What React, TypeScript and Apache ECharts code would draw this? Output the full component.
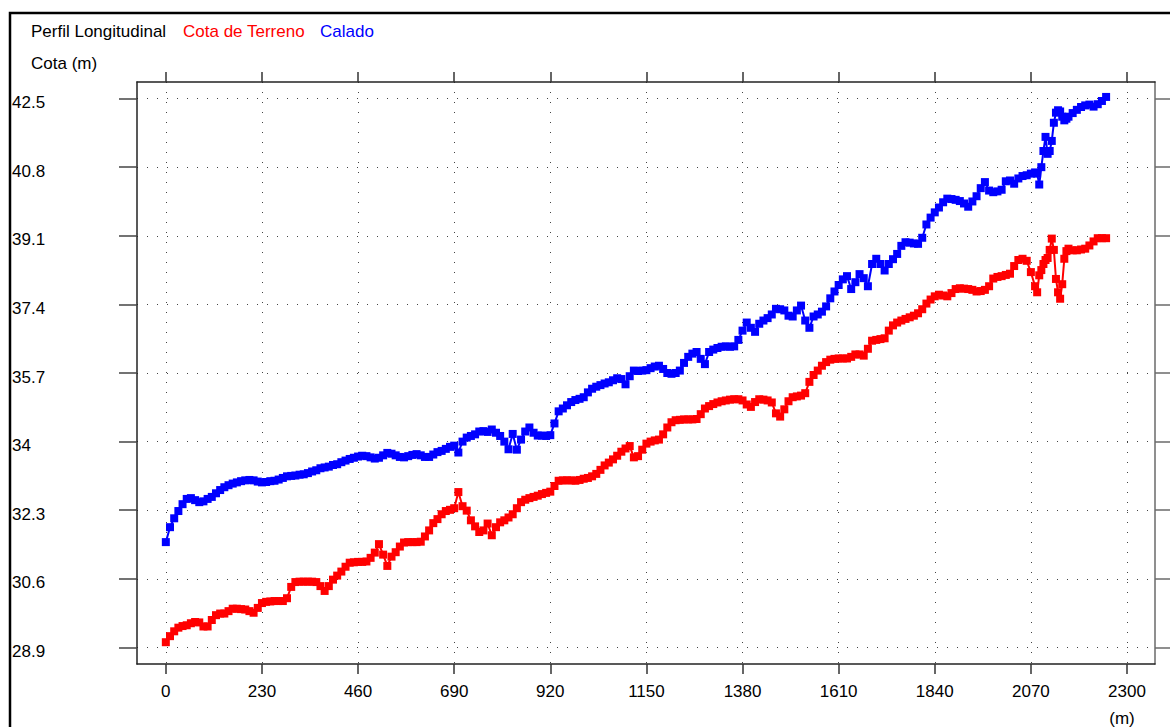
import React, { useEffect, useRef } from "react";
import * as echarts from "echarts";

const FONT = '"Liberation Sans", Arial, Helvetica, sans-serif';

// Axis ticks (distance in metres, elevation in metres)
const xTicks = [0, 230, 460, 690, 920, 1150, 1380, 1610, 1840, 2070, 2300];
const yTicks = [28.9, 30.6, 32.3, 34, 35.7, 37.4, 39.1, 40.8, 42.5];

const titleText = "Perfil Longitudinal";
const terrenoName = "Cota de Terreno";
const caladoName = "Calado";
const yAxisName = "Cota (m)";
const xAxisUnit = "(m)";

// Survey stations: every 10 m, denser (5 m) through the irregular stretch near 2100 m
function stationRange(from: number, to: number, step: number): number[] {
  const out: number[] = [];
  for (let s = from; s <= to; s += step) out.push(s);
  return out;
}
const stations = [
  ...stationRange(0, 2080, 10),
  ...stationRange(2085, 2160, 5),
  ...stationRange(2170, 2250, 10),
];

// Water level (blue)
const calado = [
  31.51, 31.88, 32.10, 32.28, 32.45, 32.58, 32.60, 32.55, 32.50, 32.52,
  32.58, 32.63, 32.72, 32.80, 32.87, 32.92, 32.96, 32.99, 33.02, 33.04,
  33.05, 33.04, 33.01, 32.99, 33.00, 33.02, 33.03, 33.06, 33.10, 33.14,
  33.15, 33.16, 33.18, 33.19, 33.22, 33.26, 33.29, 33.34, 33.36, 33.38,
  33.42, 33.44, 33.49, 33.53, 33.57, 33.60, 33.63, 33.65, 33.64, 33.61,
  33.58, 33.60, 33.66, 33.72, 33.70, 33.66, 33.62, 33.61, 33.64, 33.67,
  33.69, 33.66, 33.62, 33.62, 33.68, 33.74, 33.77, 33.82, 33.87, 33.90,
  33.73, 34.00, 34.10, 34.14, 34.18, 34.25, 34.26, 34.24, 34.30, 34.22,
  34.14, 34.00, 33.81, 34.19, 33.80, 34.05, 34.25, 34.35, 34.22, 34.15,
  34.15, 34.14, 34.16, 34.45, 34.75, 34.82, 34.90, 34.98, 35.03, 35.06,
  35.10, 35.22, 35.31, 35.36, 35.40, 35.44, 35.47, 35.52, 35.57, 35.55,
  35.42, 35.62, 35.76, 35.75, 35.76, 35.77, 35.82, 35.86, 35.88, 35.80,
  35.70, 35.68, 35.70, 35.76, 35.95, 36.10, 36.18, 36.22, 36.05, 35.92,
  36.22, 36.28, 36.32, 36.35, 36.36, 36.35, 36.36, 36.52, 36.75, 36.95,
  36.82, 36.72, 36.92, 37.00, 37.06, 37.15, 37.29, 37.28, 37.25, 37.12,
  37.10, 37.25, 37.37, 37.00, 36.82, 37.10, 37.15, 37.22, 37.35, 37.55,
  37.72, 37.88, 38.02, 38.10, 37.78, 37.95, 38.15, 38.05, 37.85, 38.40,
  38.53, 38.40, 38.24, 38.40, 38.52, 38.65, 38.85, 38.94, 38.93, 38.91,
  38.90, 39.05, 39.38, 39.55, 39.68, 39.80, 39.93, 40.02, 40.01, 39.99,
  39.96, 39.90, 39.82, 39.95, 40.08, 40.28, 40.43, 40.22, 40.18, 40.20,
  40.24, 40.45, 40.47, 40.39, 40.52, 40.58, 40.60, 40.64, 40.67,
  40.64, 40.37, 40.80, 41.20, 41.55, 41.13, 41.20, 41.45, 41.90, 42.15,
  42.21, 42.18, 42.05, 41.96, 42.00, 42.05,
  42.14, 42.22, 42.29, 42.33, 42.35, 42.30, 42.36, 42.44, 42.54,
];

// Ground elevation (red)
const cotaTerreno = [
  29.03, 29.18, 29.30, 29.39, 29.43, 29.45, 29.50, 29.53, 29.52, 29.42,
  29.42, 29.58, 29.70, 29.74, 29.74, 29.80, 29.86, 29.86, 29.85, 29.84,
  29.80, 29.76, 29.88, 30.00, 30.03, 30.04, 30.05, 30.05, 30.05, 30.12,
  30.40, 30.52, 30.53, 30.53, 30.53, 30.53, 30.52, 30.42, 30.30, 30.42,
  30.58, 30.68, 30.78, 30.90, 31.00, 31.01, 31.02, 31.02, 31.03, 31.12,
  31.25, 31.46, 31.20, 30.92, 31.15, 31.26, 31.40, 31.50, 31.51, 31.51,
  31.51, 31.52, 31.65, 31.80, 31.98, 32.08, 32.20, 32.28, 32.31, 32.35,
  32.75, 32.40, 32.29, 32.05, 31.90, 31.76, 31.80, 31.97, 31.68, 31.88,
  32.00, 32.05, 32.12, 32.20, 32.35, 32.50, 32.56, 32.60, 32.63, 32.66,
  32.70, 32.73, 32.76, 32.90, 33.03, 33.04, 33.04, 33.04, 33.03, 33.05,
  33.08, 33.10, 33.14, 33.20, 33.30, 33.41, 33.48, 33.56, 33.65, 33.75,
  33.83, 33.89, 33.61, 33.64, 33.80, 33.95, 34.00, 34.03, 34.05, 34.18,
  34.35, 34.48, 34.53, 34.54, 34.55, 34.55, 34.55, 34.56, 34.68, 34.82,
  34.88, 34.93, 34.97, 35.00, 35.02, 35.04, 35.05, 35.05, 35.02, 34.92,
  34.86, 34.98, 35.05, 35.04, 35.02, 34.97, 34.70, 34.62, 34.80, 35.00,
  35.10, 35.12, 35.14, 35.20, 35.48, 35.65, 35.76, 35.88, 35.97, 36.03,
  36.05, 36.06, 36.06, 36.06, 36.10, 36.16, 36.16, 36.13, 36.30, 36.50,
  36.52, 36.54, 36.56, 36.75, 36.88, 36.95, 37.00, 37.04, 37.08, 37.12,
  37.18, 37.28, 37.42, 37.52, 37.60, 37.64, 37.62, 37.60, 37.68, 37.78,
  37.80, 37.79, 37.78, 37.76, 37.72, 37.73, 37.76, 37.85, 38.04, 38.08,
  38.10, 38.13, 38.16, 38.35, 38.50, 38.53, 38.48, 38.20, 37.85,
  37.70, 38.12, 38.25, 38.40, 38.50, 38.55, 38.75, 39.03, 38.75, 38.03,
  37.70, 37.54, 37.90, 38.53, 38.72, 38.78,
  38.74, 38.74, 38.76, 38.78, 38.86, 38.96, 39.04, 39.04, 39.04,
];

// Plot-frame extents (axis ranges slightly wider than the tick span)
const X_MIN = -69;
const X_MAX = 2367;
const Y_MIN = 28.49;
const Y_MAX = 42.91;

const RED = "#ff0000";
const BLUE = "#0000ff";
const AXIS_DARK = "#222222";
const AXIS_GREY = "#6a6a6a";

export default function App() {
  const ref = useRef<HTMLDivElement>(null);

  useEffect(() => {
    if (!ref.current) return;
    const chart = echarts.init(ref.current, undefined, { renderer: "svg" });

    const dotted = { type: [1, 9] as number[], color: "#444", width: 1 };
    const labelStyle = { color: "#000", fontFamily: FONT, fontSize: 17 };
    const plain = (v: number) => String(v);

    const xAxisBase = {
      type: "value" as const,
      min: X_MIN,
      max: X_MAX,
      axisLine: { show: true, onZero: false, lineStyle: { color: AXIS_DARK, width: 1.5 } },
      axisTick: {
        show: true,
        inside: false,
        length: 10,
        customValues: xTicks,
        lineStyle: { color: "#333", width: 1.5 },
      },
    };
    const yAxisBase = {
      type: "value" as const,
      min: Y_MIN,
      max: Y_MAX,
      axisTick: {
        show: true,
        inside: false,
        length: 18,
        customValues: yTicks,
        lineStyle: { color: "#444", width: 1.5 },
      },
    };

    chart.setOption({
      animation: false,
      backgroundColor: "#ffffff",
      grid: { left: 137, top: 82, right: 15, bottom: 63, containLabel: false },
      xAxis: [
        {
          ...xAxisBase,
          position: "bottom",
          axisLabel: { ...labelStyle, customValues: xTicks, margin: 19, formatter: plain },
          splitLine: { show: true, lineStyle: dotted },
        },
        {
          ...xAxisBase,
          position: "top",
          axisLabel: { show: false },
          splitLine: { show: false },
        },
      ],
      yAxis: [
        {
          ...yAxisBase,
          position: "left",
          axisLine: { show: true, onZero: false, lineStyle: { color: AXIS_DARK, width: 1.5 } },
          axisLabel: {
            ...labelStyle,
            customValues: yTicks,
            formatter: plain,
            align: "left",
            verticalAlign: "top",
            lineHeight: 8,
            margin: 125,
          },
          splitLine: { show: true, lineStyle: dotted },
        },
        {
          ...yAxisBase,
          position: "right",
          axisLine: { show: true, onZero: false, lineStyle: { color: AXIS_GREY, width: 1.5 } },
          axisTick: { ...yAxisBase.axisTick, lineStyle: { color: AXIS_GREY, width: 1.5 } },
          axisLabel: { show: false },
          splitLine: { show: false },
        },
      ],
      series: [
        {
          name: terrenoName,
          type: "line",
          xAxisIndex: 0,
          yAxisIndex: 0,
          data: stations.map((s, i) => [s, cotaTerreno[i]]),
          symbol: "rect",
          symbolSize: 8,
          showSymbol: true,
          lineStyle: { color: RED, width: 2 },
          itemStyle: { color: RED },
          emphasis: { disabled: true },
          clip: false,
        },
        {
          name: caladoName,
          type: "line",
          xAxisIndex: 0,
          yAxisIndex: 0,
          data: stations.map((s, i) => [s, calado[i]]),
          symbol: "rect",
          symbolSize: 8,
          showSymbol: true,
          lineStyle: { color: BLUE, width: 2 },
          itemStyle: { color: BLUE },
          emphasis: { disabled: true },
          clip: false,
        },
      ],
      graphic: [
        {
          type: "rect",
          silent: true,
          shape: { x: 10, y: 13, width: 1300, height: 900 },
          style: { fill: "none", stroke: "#000", lineWidth: 2.5 },
        },
        {
          type: "text",
          silent: true,
          x: 31,
          y: 31,
          style: { text: titleText, fill: "#000", font: `17px ${FONT}`, verticalAlign: "middle" },
        },
        {
          type: "text",
          silent: true,
          x: 183,
          y: 31,
          style: { text: terrenoName, fill: RED, font: `17px ${FONT}`, verticalAlign: "middle" },
        },
        {
          type: "text",
          silent: true,
          x: 320,
          y: 31,
          style: { text: caladoName, fill: BLUE, font: `17px ${FONT}`, verticalAlign: "middle" },
        },
        {
          type: "text",
          silent: true,
          x: 31,
          y: 63,
          style: { text: yAxisName, fill: "#000", font: `17px ${FONT}`, verticalAlign: "middle" },
        },
        {
          type: "text",
          silent: true,
          x: 1122,
          y: 718,
          style: {
            text: xAxisUnit,
            fill: "#000",
            font: `17px ${FONT}`,
            align: "center",
            verticalAlign: "middle",
          },
        },
      ],
    });

    return () => chart.dispose();
  }, []);

  return (
    <div
      ref={ref}
      style={{ position: "fixed", left: 0, top: 0, width: 1170, height: 727, background: "#fff" }}
    />
  );
}
